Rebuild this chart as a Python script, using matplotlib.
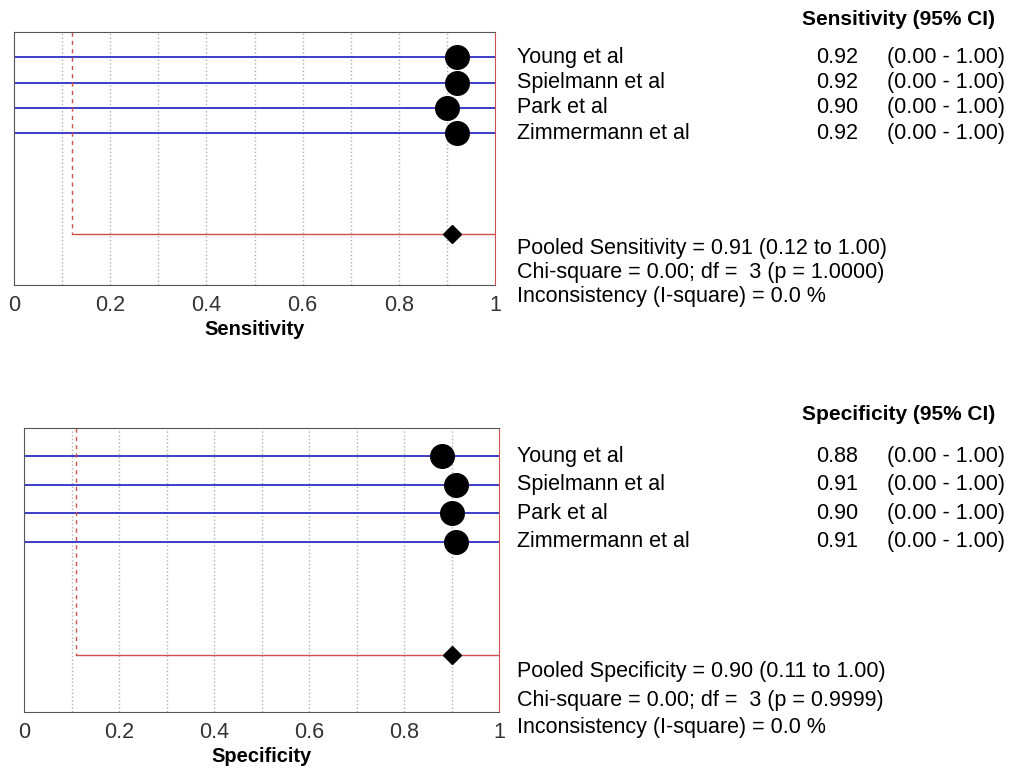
import matplotlib.pyplot as plt
from matplotlib.transforms import blended_transform_factory

plt.rcParams['font.family'] = ['Liberation Sans', 'DejaVu Sans']

# Data
studies = ['Young et al', 'Spielmann et al', 'Park et al', 'Zimmermann et al']
sens = [0.92, 0.92, 0.90, 0.92]
spec = [0.88, 0.91, 0.90, 0.91]
ci_low = [0.00, 0.00, 0.00, 0.00]
ci_high = [1.00, 1.00, 1.00, 1.00]
sens_pooled = [0.91, 0.12, 1.00]   # estimate, lower, upper
spec_pooled = [0.90, 0.11, 1.00]
sens_stats = ['Pooled Sensitivity = 0.91 (0.12 to 1.00)',
              'Chi-square = 0.00; df =  3 (p = 1.0000)',
              'Inconsistency (I-square) = 0.0 %']
spec_stats = ['Pooled Specificity = 0.90 (0.11 to 1.00)',
              'Chi-square = 0.00; df =  3 (p = 0.9999)',
              'Inconsistency (I-square) = 0.0 %']
ticks = [0, 0.2, 0.4, 0.6, 0.8, 1]
tick_labels = ['0', '0.2', '0.4', '0.6', '0.8', '1']

W, H = 1009, 772
fig = plt.figure(figsize=(W / 100, H / 100), dpi=100)

blue = '#3c3cc8'
red = '#d05050'
fs = 15.5


def panel(rect, values, pooled, label, header, header_y, stats, stat_rows):
    ax = fig.add_axes(rect)
    rows = list(range(1, len(values) + 1))
    pooled_y = 8
    ax.set_xlim(0, 1)
    ax.set_ylim(10, 0)
    for x in [i / 10 for i in range(1, 10)]:
        ax.axvline(x, color='#b0b0b0', ls=':', lw=1, zorder=0)
    for y, v, lo, hi in zip(rows, values, ci_low, ci_high):
        ax.plot([lo, hi], [y, y], color=blue, lw=1.4, zorder=2)
        ax.plot(v, y, 'o', color='black', ms=17, zorder=3)
    ax.plot([pooled[1], pooled[1]], [0, pooled_y], color=red, ls=(0, (3, 3)), lw=1, zorder=2)
    ax.plot([pooled[1], pooled[2]], [pooled_y, pooled_y], color=red, lw=1, zorder=2)
    ax.plot(pooled[0], pooled_y, 'D', color='black', ms=9, zorder=3)
    ax.set_yticks([])
    ax.set_xticks(ticks)
    ax.set_xticklabels(tick_labels, fontsize=fs, color='#333333')
    ax.tick_params(axis='x', length=0, pad=7)
    ax.set_xlabel(label, fontsize=fs - 1, fontweight='bold', labelpad=3)
    for s in ['top', 'left', 'bottom']:
        ax.spines[s].set_color('#555555')
    ax.spines['right'].set_color(red)

    tr = blended_transform_factory(fig.transFigure, ax.transData)
    ax.text(995 / W, header_y, header, transform=tr, ha='right', va='center',
            fontsize=fs - 0.5, fontweight='bold')
    for y, name, v, lo, hi in zip(rows, studies, values, ci_low, ci_high):
        ax.text(517 / W, y, name, transform=tr, ha='left', va='center', fontsize=fs)
        ax.text(858 / W, y, f'{v:.2f}', transform=tr, ha='right', va='center', fontsize=fs)
        ax.text(1005 / W, y, f'({lo:.2f} - {hi:.2f})', transform=tr, ha='right',
                va='center', fontsize=fs)
    for y, s in zip(stat_rows, stats):
        ax.text(517 / W, y, s, transform=tr, ha='left', va='center', fontsize=fs,
                clip_on=False)
    return ax


panel([14 / W, 1 - 285 / H, 481 / W, 253 / H], sens, sens_pooled, 'Sensitivity',
      'Sensitivity (95% CI)', -0.5, sens_stats, [8.54, 9.49, 10.47])
panel([24 / W, 1 - 712 / H, 475 / W, 284 / H], spec, spec_pooled, 'Specificity',
      'Specificity (95% CI)', -0.47, spec_stats, [8.59, 9.58, 10.53])

fig.savefig('out.png', dpi=100)
